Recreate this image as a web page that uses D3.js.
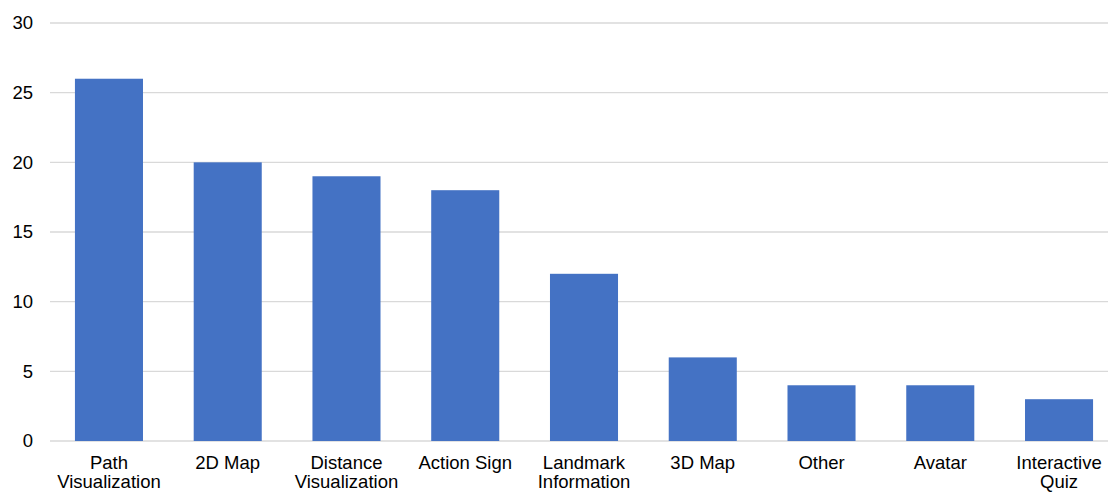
<!DOCTYPE html>
<html>
<head>
<meta charset="utf-8">
<script src="https://cdn.jsdelivr.net/npm/d3@7"></script>
<style>
  body { margin: 0; background: #fff; }
  svg text { font-family: "Liberation Sans", Arial, sans-serif; fill: #000; }
</style>
</head>
<body>
<div id="chart"></div>
<script>
const categories = ["Path Visualization", "2D Map", "Distance Visualization", "Action Sign",
  "Landmark Information", "3D Map", "Other", "Avatar", "Interactive Quiz"];
const counts = [26, 20, 19, 18, 12, 6, 4, 4, 3];
const yTicks = [0, 5, 10, 15, 20, 25, 30];

const W = 1110, H = 492;
const margin = {top: 23, right: 2, bottom: 51, left: 50};
const width = W - margin.left - margin.right;
const height = H - margin.top - margin.bottom;

const svg = d3.select("#chart").append("svg")
  .attr("width", W).attr("height", H)
  .append("g")
  .attr("transform", `translate(${margin.left},${margin.top})`);

// band step is a bit wider than the gridlines in the original
const x = d3.scaleBand().domain(categories).range([0, 1068]).paddingInner(0.427).paddingOuter(0.21);
const y = d3.scaleLinear().domain([0, 30]).range([height, 0]);

// gridlines
svg.append("g").selectAll("line")
  .data(yTicks)
  .enter().append("line")
  .attr("x1", 0).attr("x2", width)
  .attr("y1", d => y(d)).attr("y2", d => y(d))
  .attr("stroke", "#d9d9d9").attr("stroke-width", 1.3);

// y tick labels
svg.append("g").selectAll("text")
  .data(yTicks)
  .enter().append("text")
  .attr("x", -17).attr("y", d => y(d))
  .attr("dy", "0.35em")
  .attr("text-anchor", "end")
  .style("font-size", "18.5px")
  .text(d => d);

// bars
svg.selectAll("rect.bar")
  .data(categories)
  .enter().append("rect")
  .attr("class", "bar")
  .attr("x", d => x(d))
  .attr("y", (d, i) => y(counts[i]))
  .attr("width", x.bandwidth())
  .attr("height", (d, i) => y(0) - y(counts[i]))
  .attr("fill", "#4472c4");

// x labels, wrapped on two lines like the original
const words = d => {
  const p = d.split(" ");
  if (d === "2D Map" || d === "3D Map" || d === "Action Sign" || p.length === 1) return [d];
  return p;
};
const lab = svg.append("g").selectAll("text")
  .data(categories)
  .enter().append("text")
  .attr("x", d => x(d) + x.bandwidth() / 2)
  .attr("y", height + 28)
  .attr("text-anchor", "middle")
  .style("font-size", "18.5px");
lab.selectAll("tspan")
  .data(d => words(d))
  .enter().append("tspan")
  .attr("x", function() { return this.parentNode.getAttribute("x"); })
  .attr("dy", (d, i) => i === 0 ? 0 : 19)
  .text(d => d);
</script>
</body>
</html>
